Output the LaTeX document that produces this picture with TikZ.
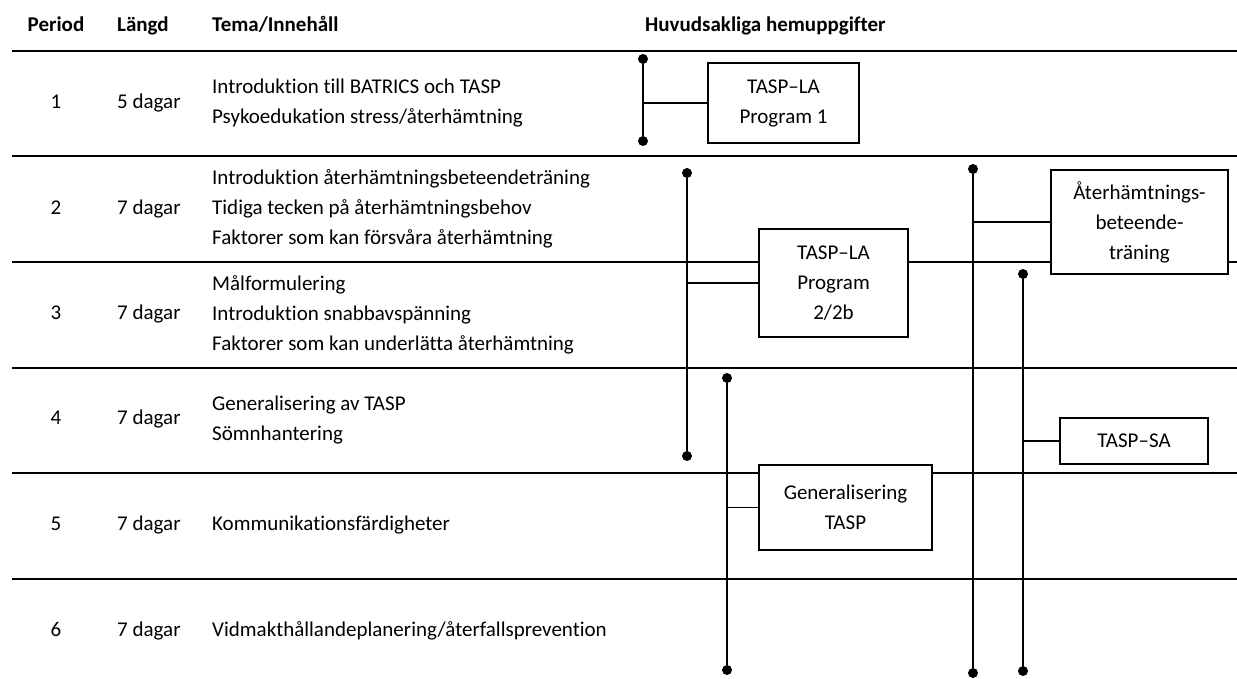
\documentclass[tikz,border=0pt]{standalone}
\usepackage{fontspec}
\setmainfont[Ligatures=NoCommon]{Carlito}

\tikzset{
  txt/.style={font=\fontsize{21}{30}\selectfont},
  cell/.style={text height=14pt, text depth=5pt},
  head/.style={cell, font=\fontsize{21}{30}\selectfont\bfseries},
  tema/.style={anchor=west, align=left},
  task/.style={draw, line width=1.5pt, fill=white, align=center},
  bar/.style={line width=2.2pt},
  branch/.style={line width=1.3pt},
  dot/.style={circle, fill, minimum size=10pt},
}

\begin{document}
\begin{tikzpicture}[x=1pt,y=-1pt,txt,inner sep=0pt]
  % Page frame (pixel units, y downwards).
  \useasboundingbox (0,0) rectangle (1237,679);
  % Column headings.
  \node[head] (hper) at (56,27) {Period};
  \node[head,anchor=west] (hlen) at (117,27) {Längd};
  \node[head,anchor=west] (htema) at (212,27) {Tema/Innehåll};
  \node[head,anchor=west] (hupp) at (645,27) {Huvudsakliga hemuppgifter};
  % Rules between the periods.
  \foreach \y/\w in {51/2.5,156/2.5,262/1.8,368/1.8,473/1.8,579/1.8}
    \draw[line width=\w pt] (12,\y) -- (1237,\y);
  % Period number and length.
  \foreach \n/\d/\y in {1/5/104,2/7/210,3/7/315,4/7/420,5/7/526,6/7/632} {
    \node[cell] (per\n) at (56,\y) {\n};
    \node[cell,anchor=west] (len\n) at (117,\y) {\d\ dagar};
  }
  % Contents of each period.
  \node[tema] (tema1) at (212,103) {Introduktion till BATRICS och TASP\\Psykoedukation stress/återhämtning};
  \node[tema] (tema2) at (212,209) {Introduktion återhämtningsbeteendeträning\\Tidiga tecken på återhämtningsbehov\\Faktorer som kan försvåra återhämtning};
  \node[tema] (tema3) at (212,315) {Målformulering\\Introduktion snabbavspänning\\Faktorer som kan underlätta återhämtning};
  \node[tema] (tema4) at (212,420) {Generalisering av TASP\\Sömnhantering};
  \node[tema,cell] (tema5) at (212,526) {Kommunikationsfärdigheter};
  \node[tema,cell] (tema6) at (212,632) {Vidmakthållandeplanering/återfallsprevention};
  % Home tasks.
  \node[task,minimum width=151pt,minimum height=80pt] (prog1) at (783.5,103) {TASP–LA\\Program 1};
  \node[task,minimum width=149pt,minimum height=108pt] (prog2) at (833.5,283) {TASP–LA\\Program\\2/2b};
  \node[task,minimum width=173pt,minimum height=85pt] (gen) at (845.5,507.5) {Generalisering\\TASP};
  \node[task,minimum width=177pt,minimum height=104pt] (abt) at (1139.5,222) {Återhämtnings-\\beteende-\\träning};
  \node[task,minimum width=148pt,minimum height=46pt] (sa) at (1134,441) {TASP–SA};
  % Span of each task: dots at both ends.
  \node[dot] (s1) at (643,59) {};   \node[dot] (e1) at (643,141) {};
  \node[dot] (s2) at (687,173) {};  \node[dot] (e2) at (687,456) {};
  \node[dot] (s3) at (727,378) {};  \node[dot] (e3) at (727,670) {};
  \node[dot] (s4) at (973,169) {};  \node[dot] (e4) at (973,673) {};
  \node[dot] (s5) at (1023,274) {}; \node[dot] (e5) at (1023,671) {};
  \draw[bar] (s1) -- (e1);
  \draw[bar] (s2) -- (e2);
  \draw[bar] (s3) -- (e3);
  \draw[bar] (s4) -- (e4);
  \draw[bar] (s5) -- (e5);
  % Branches from span to task.
  \draw[branch] (prog1.west) -- (prog1.west -| s1);
  \draw[branch] (prog2.west) -- (prog2.west -| s2);
  \draw[branch] (gen.west) -- (gen.west -| s3);
  \draw[branch] (abt.west) -- (abt.west -| s4);
  \draw[branch] (sa.west) -- (sa.west -| s5);
\end{tikzpicture}
\end{document}
